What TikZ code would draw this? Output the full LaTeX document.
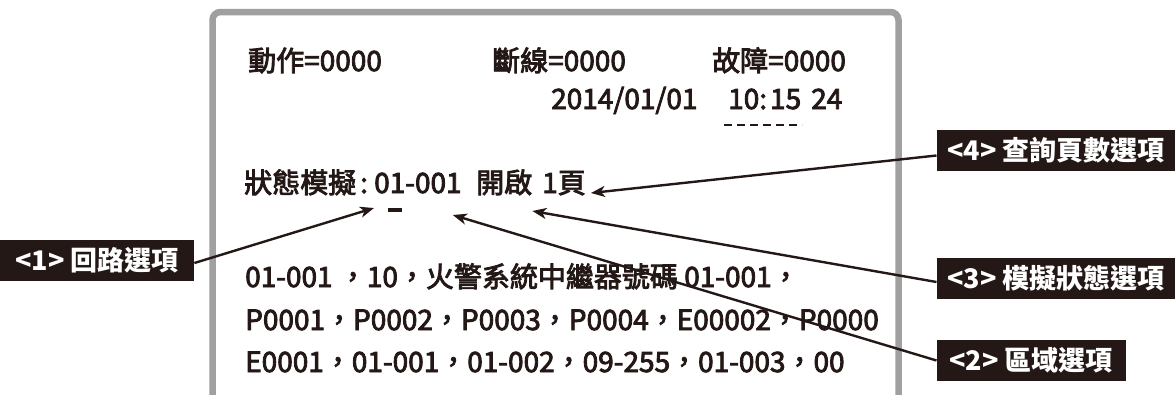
\documentclass[tikz,border=0pt]{standalone}
\usepackage{fontspec}
\newfontfamily\cjk{Noto Sans CJK TC}
\newfontfamily\cjkmid{Noto Sans CJK TC}[FakeBold=3]
\usetikzlibrary{arrows.meta}
\definecolor{ink}{HTML}{231815}
\definecolor{framegray}{HTML}{A0A0A0}
\begin{document}
\begin{tikzpicture}[x=1pt,y=-1pt,
  txt/.style={inner sep=0pt, anchor=base west, font=\cjkmid\fontsize{28}{28}\selectfont, text=ink},
  tag/.style={fill=ink, text=white, font=\cjk\bfseries\fontsize{27}{27}\selectfont, anchor=west, minimum height=41pt, inner xsep=0pt, inner ysep=0pt, align=center},
  arr/.style={draw=ink, line width=2.4pt, -{Stealth[length=14pt,width=11pt,inset=4pt]}},
  mark line/.style={draw=ink, line width=3.5pt},
  dash line/.style={draw=ink, line width=2pt, dash pattern=on 8pt off 5pt}
]
\useasboundingbox (0,0) rectangle (1175,394);
\draw[framegray, line width=6.5pt, rounded corners=8pt] (212.5,420) -- (212.5,12) -- (898.5,12) -- (898.5,420);

\node[txt] (t1) at (248,71) {動作=0000};
\node[txt] (t2) at (492,71) {斷線=0000};
\node[txt] (t3) at (712,71) {故障=0000};
\node[txt] (d1) at (551,109) {2014/01/01};
\node[txt] (d2) at (728,109) {10:\hspace{3pt}15};
\node[txt] (d3) at (811,109) {24};
\draw[dash line] ([xshift=-4pt,yshift=-16pt]d2.base west) -- ([xshift=74pt,yshift=-16pt]d2.base west);

\node[txt] (s1) at (244,193) {狀態模擬};
\node[txt] (s2) at (360,193) {:};
\node[txt] (s3) at (374,193) {01-001};
\node[txt] (s4) at (476,193) {開啟};
\node[txt] (s5) at (542,193) {1頁};
\draw[mark line] ([xshift=14pt,yshift=-17pt]s3.base west) -- ([xshift=28pt,yshift=-17pt]s3.base west);

\node[txt] (l1) at (245,287) {01-001 ，10，火警系統中繼器號碼 01-001，};
\node[txt] (l2) at (245,330) {P0001，P0002，P0003，P0004，E00002，P0000};
\node[txt] (l3) at (245,372) {E0001，01-001，01-002，09-255，01-003，00};

\node[tag, minimum width=194pt] (b1) at (0,260) {<1> 回路選項};
\node[tag, minimum width=239pt] (b4) at (936.5,150.5) {<4> 查詢頁數選項};
\node[tag, minimum width=239pt] (b3) at (936.5,278.5) {<3> 模擬狀態選項};
\node[tag, minimum width=189pt] (b2) at (936.5,360.5) {<2> 區域選項};

\draw[arr] ([yshift=-5pt]b4.west) -- ([xshift=5pt]s5.base east);
\draw[arr] ([yshift=-3.5pt]b3.west) -- ([yshift=-18pt]s4.base east);
\draw[arr] (b2.west) -- ([xshift=-9pt,yshift=-22pt]s3.base east);
\draw[arr] ([yshift=-3pt]b1.east) -- ([yshift=-15pt]s3.base west);
\end{tikzpicture}
\end{document}
